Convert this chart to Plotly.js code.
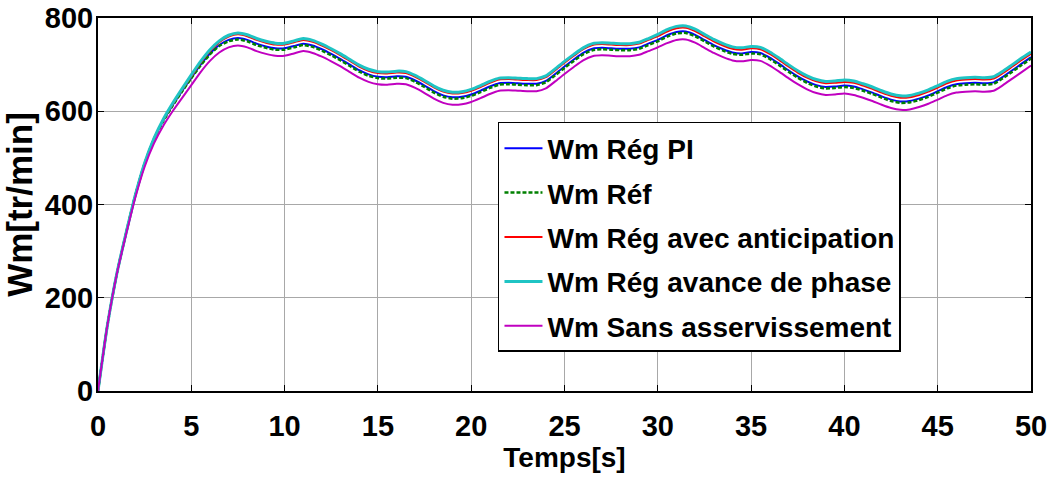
<!DOCTYPE html>
<html>
<head>
<meta charset="utf-8">
<script src="https://cdn.plot.ly/plotly-3.0.1.min.js"></script>
<style>html,body{margin:0;padding:0;background:#fff;}#chart{width:1053px;height:477px;}</style>
</head>
<body>
<div id="chart"></div>
<script>
// Time axis (s)
const temps = [0,0.5,1,1.5,2,2.5,3,3.5,4,4.5,5,5.5,6,6.5,7,7.5,8,8.5,9,9.5,10,10.5,11,11.5,12,12.5,13,13.5,14,14.5,15,15.5,16,16.5,17,17.5,18,18.5,19,19.5,20,20.5,21,21.5,22,22.5,23,23.5,24,24.5,25,25.5,26,26.5,27,27.5,28,28.5,29,29.5,30,30.5,31,31.5,32,32.5,33,33.5,34,34.5,35,35.5,36,36.5,37,37.5,38,38.5,39,39.5,40,40.5,41,41.5,42,42.5,43,43.5,44,44.5,45,45.5,46,46.5,47,47.5,48,48.5,49,49.5,50];

// Wm Rég PI
const wmRegPI = [0,140,250,338,420,488,540,580,613,643,672,700,724,742,753,757,753,745,739,735,735,740,745,741,733,723,712,700,688,679,674,673,675,674,666,655,643,634,630,631,636,644,653,660,661,660,659,659,665,680,696,711,725,734,736,735,734,734,737,745,753,763,770,771,764,753,742,733,726,724,727,725,715,702,688,675,664,656,652,653,655,653,647,640,632,625,621,622,627,634,643,652,658,660,661,660,662,674,688,702,716];

// Wm Réf
const wmRef = [0,140,250,338,420,488,540,579,612,642,671,698,722,740,750,754,750,742,736,732,732,737,742,738,730,720,709,697,685,676,671,670,672,671,663,652,640,631,627,628,633,641,650,657,658,657,656,656,662,677,693,708,722,731,733,732,731,731,734,742,750,760,767,768,761,750,739,730,723,721,724,722,712,699,685,672,661,653,649,650,652,650,644,637,629,622,618,619,624,631,640,649,655,657,658,657,659,671,685,699,713];

// Wm Rég avec anticipation
const wmRegAnticipation = [0,140,250,338,420,489,541,582,615,646,675,704,729,748,760,765,761,753,747,743,743,748,753,749,741,731,720,708,696,687,682,681,683,682,674,663,651,642,638,639,644,652,661,668,669,668,667,667,673,688,704,719,733,742,744,743,742,742,745,753,761,771,778,779,772,761,750,741,734,732,735,733,723,710,696,683,672,664,660,661,663,661,655,648,640,633,629,630,635,642,651,660,666,668,669,668,670,682,696,710,723];

// Wm Rég avance de phase
const wmRegAvancePhase = [0,140,250,338,420,489,542,583,617,648,678,707,732,751,763,768,764,756,750,746,746,751,756,752,744,734,723,711,699,690,685,684,686,685,677,666,654,645,641,642,647,655,664,671,672,671,670,670,676,691,707,722,736,745,747,746,745,745,748,756,765,775,782,783,776,765,754,745,738,736,739,737,727,714,700,687,676,668,664,665,667,665,659,652,644,637,633,634,639,646,655,664,670,672,673,672,674,686,700,714,727];

// Wm Sans asservissement
const wmSansAsserv = [0,140,249,335,415,481,531,569,600,628,656,684,708,726,737,741,737,729,723,719,719,724,729,725,717,707,696,684,672,663,658,657,659,658,650,639,627,618,614,615,620,628,637,644,645,644,643,643,649,664,680,695,709,718,720,719,718,718,721,729,737,746,753,754,747,736,725,716,709,707,710,708,698,685,671,658,647,639,635,636,638,635,629,622,614,607,603,604,609,616,625,634,640,642,643,642,644,656,670,684,698];

const seriesNames = ["Wm Rég PI","Wm Réf","Wm Rég avec anticipation","Wm Rég avance de phase","Wm Sans asservissement"];
const xTicks = [0,5,10,15,20,25,30,35,40,45,50];
const yTicks = [0,200,400,600,800];

const fam = "Liberation Sans, Arial, Helvetica, sans-serif";

const styles = [
  {color:"#0000ff", width:2, dash:"solid"},
  {color:"#008000", width:2.5, dash:"4px,2px"},
  {color:"#ff0000", width:2, dash:"solid"},
  {color:"#1fc4c4", width:3, dash:"solid"},
  {color:"#c000c0", width:2, dash:"solid"}
];
const ys = [wmRegPI, wmRef, wmRegAnticipation, wmRegAvancePhase, wmSansAsserv];

const data = ys.map((y,i)=>({
  x: temps, y: y, type:"scatter", mode:"lines", name: seriesNames[i],
  legendgroup: "g"+i,
  line: {color: styles[i].color, width: styles[i].width, dash: styles[i].dash, shape:"spline", smoothing:0.6}
}));

const layout = {
  width:1053, height:477,
  margin:{l:98, r:22, t:18, b:86},
  paper_bgcolor:"#ffffff", plot_bgcolor:"#ffffff",
  showlegend:true,
  xaxis:{
    range:[0,50], tickvals:xTicks, ticktext:xTicks.map(String),
    showline:true, mirror:"ticks", linecolor:"#000", linewidth:2,
    ticks:"inside", ticklen:6, tickcolor:"#000", tickwidth:1,
    showgrid:true, gridcolor:"#a8a8a8", gridwidth:1, zeroline:false,
    tickfont:{family:fam, size:29, color:"#000", weight:"bold"},
    ticklabelstandoff:8, ticklabeloverflow:"allow",
    title:{text:"Temps[s]", font:{family:fam, size:28, color:"#000", weight:"bold"}, standoff:0}
  },
  yaxis:{
    range:[0,800], tickvals:yTicks, ticktext:yTicks.map(String),
    showline:true, mirror:"ticks", linecolor:"#000", linewidth:2,
    ticks:"inside", ticklen:6, tickcolor:"#000", tickwidth:1,
    showgrid:true, gridcolor:"#a8a8a8", gridwidth:1, zeroline:false,
    tickfont:{family:fam, size:29, color:"#000", weight:"bold"},
    ticklabelstandoff:-3, ticklabeloverflow:"allow",
    title:{text:"Wm[tr/min]", font:{family:fam, size:35, color:"#000", weight:"bold"}, standoff:6}
  },
  legend:{
    x:0.4287, y:0.7212, xanchor:"left", yanchor:"top",
    bgcolor:"#ffffff", bordercolor:"#000", borderwidth:1.5,
    font:{family:fam, size:28, color:"#000", weight:"bold"},
    traceorder:"grouped", tracegroupgap:5, itemwidth:38,
    entrywidth:380, entrywidthmode:"pixels"
  }
};

Plotly.newPlot("chart", data, layout, {staticPlot:true, displayModeBar:false});
</script>
</body>
</html>
